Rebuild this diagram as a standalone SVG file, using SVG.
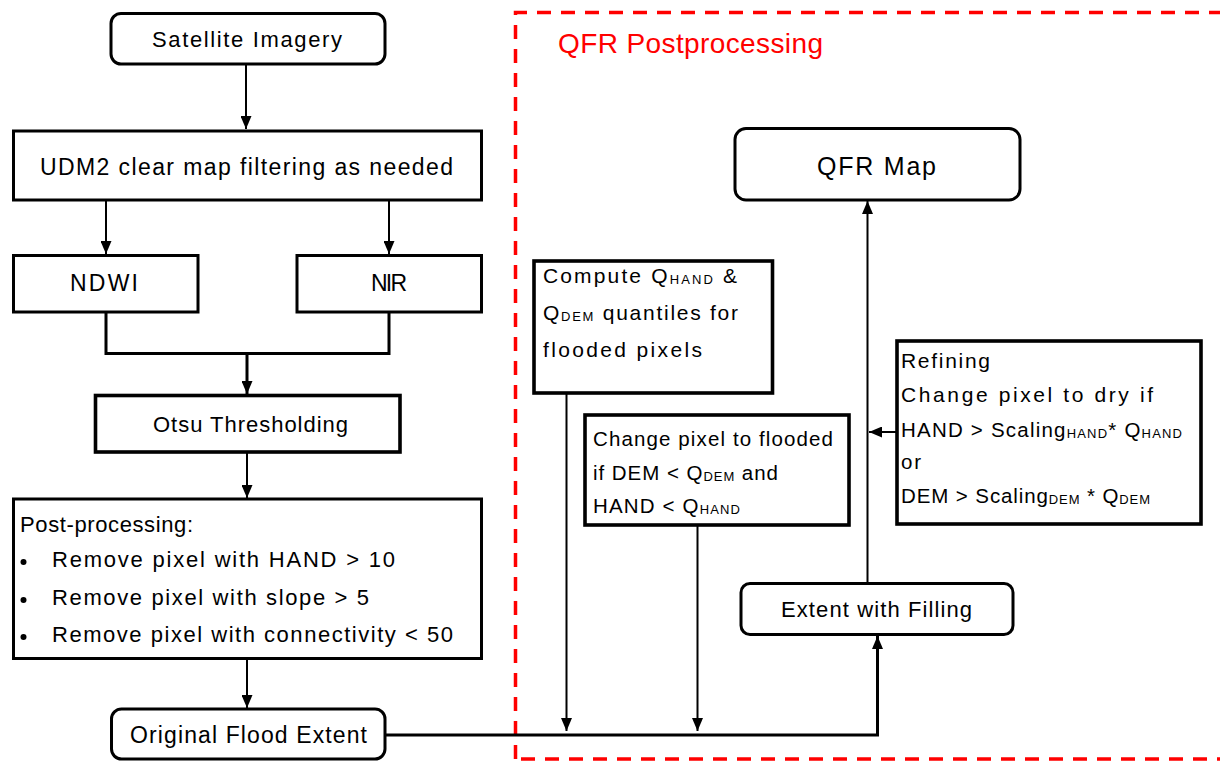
<svg xmlns="http://www.w3.org/2000/svg" width="1220" height="761" viewBox="0 0 1220 761">
<style>
text{font-family:"Liberation Sans",Arial,sans-serif;fill:#000;font-size:22px}
.box{fill:#fff;stroke:#000;stroke-width:3}
.thick{stroke-width:3.6}
.ln{fill:none;stroke:#000;stroke-width:2}
.ln3{fill:none;stroke:#000;stroke-width:3}
.sub{font-size:13px}
.f21{font-size:21px}
.f20{font-size:20.5px}
.f23{font-size:23px}
.f25{font-size:25px}
.title{fill:#ff0000;font-size:28px}
</style>
<defs>
<marker id="ah" viewBox="0 0 13 11" refX="13" refY="5.5" markerWidth="13" markerHeight="11" markerUnits="userSpaceOnUse" orient="auto">
<path d="M0,0 L13,5.5 L0,11 z" fill="#000"/>
</marker>
</defs>

<g id="qfr-container">
<path d="M515.5,759 V12.5 H1225" fill="none" stroke="#ff0000" stroke-width="3.5" stroke-dasharray="14 10"/>
<path d="M521,759 H1225" fill="none" stroke="#ff0000" stroke-width="3.5" stroke-dasharray="14 10"/>
<text class="title" x="558" y="53" textLength="265">QFR Postprocessing</text>
</g>

<g id="connectors">
<line class="ln" x1="246" y1="64" x2="246" y2="129" marker-end="url(#ah)"/>
<line class="ln" x1="106" y1="200" x2="106" y2="254" marker-end="url(#ah)"/>
<line class="ln" x1="389" y1="200" x2="389" y2="254" marker-end="url(#ah)"/>
<path class="ln3" d="M106,312 V353.5 H389 V312"/>
<line class="ln3" x1="247" y1="353" x2="247" y2="394" marker-end="url(#ah)"/>
<line class="ln" x1="247" y1="452" x2="247" y2="498" marker-end="url(#ah)"/>
<line class="ln" x1="247" y1="659" x2="247" y2="708" marker-end="url(#ah)"/>
<path class="ln3" d="M385,735 H877.5 V636" marker-end="url(#ah)"/>
<line class="ln" x1="566.5" y1="393" x2="566.5" y2="731" marker-end="url(#ah)"/>
<line class="ln" x1="697.5" y1="525" x2="697.5" y2="731" marker-end="url(#ah)"/>
<line class="ln" x1="867.5" y1="583" x2="867.5" y2="201" marker-end="url(#ah)"/>
<line class="ln" x1="896" y1="432" x2="869" y2="432" marker-end="url(#ah)"/>
</g>

<g id="satellite-imagery">
<rect class="box" x="111" y="13.5" width="274" height="50.5" rx="10"/>
<text x="152" y="47" textLength="190">Satellite Imagery</text>
</g>

<g id="udm2">
<rect class="box" x="13.5" y="131" width="468" height="69"/>
<text class="f23" x="40" y="175" textLength="413">UDM2 clear map filtering as needed</text>
</g>

<g id="ndwi">
<rect class="box" x="13.5" y="255.5" width="184.5" height="56.5"/>
<text class="f23" x="70" y="291" textLength="68">NDWI</text>
</g>

<g id="nir">
<rect class="box" x="297" y="255.5" width="184.5" height="56.5"/>
<text class="f23" x="371" y="291" textLength="36">NIR</text>
</g>

<g id="otsu">
<rect class="box thick" x="95.5" y="395.5" width="304.5" height="56.5"/>
<text x="153" y="432" textLength="195">Otsu Thresholding</text>
</g>

<g id="post-processing">
<rect class="box" x="13.5" y="499" width="468" height="159.5"/>
<text x="20" y="532" textLength="173">Post-processing:</text>
<circle cx="23.5" cy="562" r="3"/>
<circle cx="23.5" cy="600" r="3"/>
<circle cx="23.5" cy="637" r="3"/>
<text x="52" y="567" textLength="343">Remove pixel with HAND &gt; 10</text>
<text x="52" y="605" textLength="317">Remove pixel with slope &gt; 5</text>
<text x="52" y="642" textLength="401">Remove pixel with connectivity &lt; 50</text>
</g>

<g id="original-flood-extent">
<rect class="box" x="111.5" y="709" width="273.5" height="50" rx="10"/>
<text class="f23" x="130" y="743" textLength="237">Original Flood Extent</text>
</g>

<g id="qfr-map">
<rect class="box" x="735" y="128.5" width="285" height="71.5" rx="11"/>
<text class="f25" x="817" y="175" textLength="119">QFR Map</text>
</g>

<g id="compute-quantiles">
<rect class="box thick" x="534" y="261" width="238.5" height="132"/>
<text class="f21" x="543" y="283" textLength="194">Compute Q<tspan class="sub" dy="1">HAND</tspan><tspan dy="-1"> &amp;</tspan></text>
<text class="f21" x="543" y="320" textLength="195">Q<tspan class="sub" dy="1">DEM</tspan><tspan dy="-1"> quantiles for</tspan></text>
<text class="f21" x="543" y="357" textLength="159">flooded pixels</text>
</g>

<g id="change-flooded">
<rect class="box thick" x="585" y="415" width="264" height="110"/>
<text class="f20" x="593" y="446" textLength="240">Change pixel to flooded</text>
<text class="f20" x="593" y="480" textLength="185">if DEM &lt; Q<tspan class="sub" dy="1">DEM</tspan><tspan dy="-1"> and</tspan></text>
<text class="f20" x="593" y="513" textLength="147">HAND &lt; Q<tspan class="sub" dy="1">HAND</tspan></text>
</g>

<g id="refining">
<rect class="box thick" x="897" y="341" width="304" height="183"/>
<text class="f21" x="901" y="368" textLength="89">Refining</text>
<text class="f21" x="901" y="402" textLength="252">Change pixel to dry if</text>
<text class="f20" x="901" y="437" textLength="281">HAND &gt; Scaling<tspan class="sub" dy="1">HAND</tspan><tspan dy="-1">* Q</tspan><tspan class="sub" dy="1">HAND</tspan></text>
<text class="f20" x="901" y="469" textLength="20">or</text>
<text class="f20" x="901" y="503" textLength="249">DEM &gt; Scaling<tspan class="sub" dy="1">DEM</tspan><tspan dy="-1"> * Q</tspan><tspan class="sub" dy="1">DEM</tspan></text>
</g>

<g id="extent-with-filling">
<rect class="box" x="741" y="583.5" width="272" height="51" rx="9"/>
<text x="781" y="617" textLength="191">Extent with Filling</text>
</g>
</svg>
